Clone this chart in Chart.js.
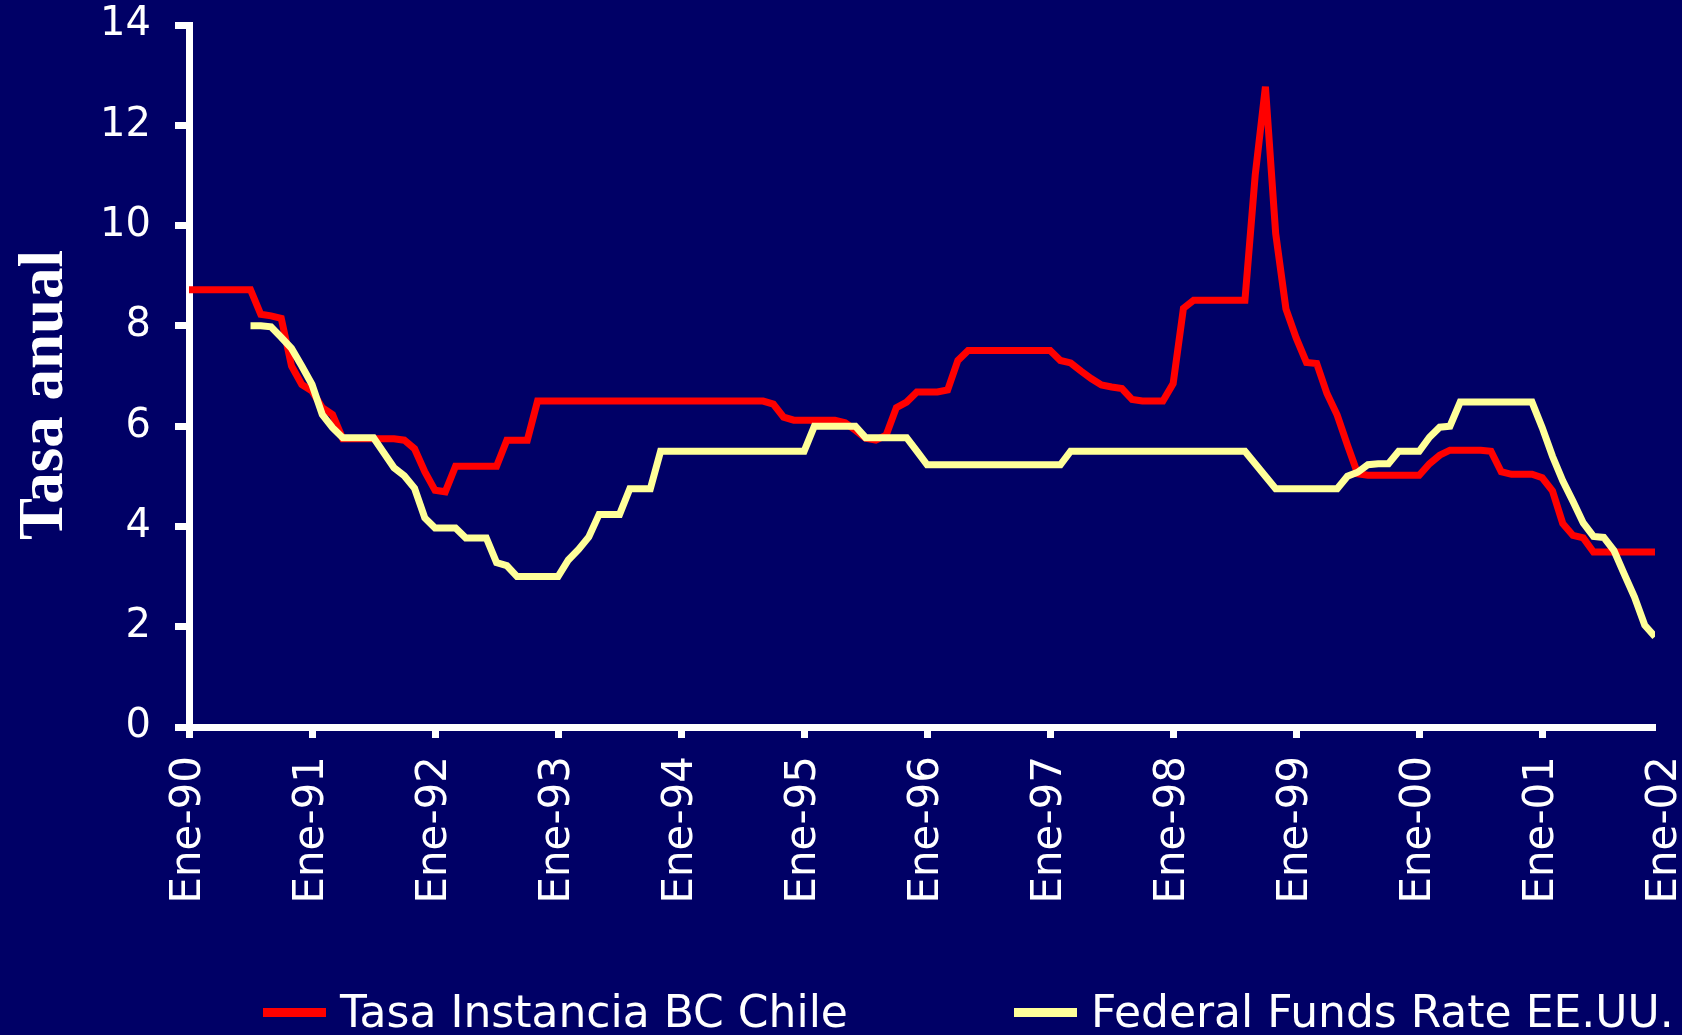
<!DOCTYPE html>
<html lang="es">
<head>
<meta charset="utf-8">
<title>Tasa Instancia BC Chile y Federal Funds Rate</title>
<script src="https://cdn.jsdelivr.net/npm/chart.js@4.4.0/dist/chart.umd.min.js"></script>
<style>
  html, body { margin: 0; padding: 0; background: #000066; }
  canvas { display: block; }
</style>
</head>
<body>
<canvas id="tasasChart" width="1682" height="1035" style="width:1682px;height:1035px"></canvas>
<script>
'use strict';

// Monthly values, index 0 = Ene-90 ... index 143 = Dic-01
const yearLabels = ['Ene-90', 'Ene-91', 'Ene-92', 'Ene-93', 'Ene-94', 'Ene-95', 'Ene-96',
  'Ene-97', 'Ene-98', 'Ene-99', 'Ene-00', 'Ene-01', 'Ene-02'];

const tasaChile = [
  8.72, 8.72, 8.72, 8.72, 8.72, 8.72, 8.72, 8.23, 8.2, 8.15, 7.2, 6.83,      // 1990
  6.7, 6.37, 6.23, 5.75, 5.75, 5.75, 5.75, 5.75, 5.75, 5.72, 5.55, 5.09,     // 1991
  4.72, 4.69, 5.2, 5.2, 5.2, 5.2, 5.2, 5.72, 5.72, 5.72, 6.5, 6.5,           // 1992
  6.5, 6.5, 6.5, 6.5, 6.5, 6.5, 6.5, 6.5, 6.5, 6.5, 6.5, 6.5,                // 1993
  6.5, 6.5, 6.5, 6.5, 6.5, 6.5, 6.5, 6.5, 6.5, 6.44, 6.18, 6.12,             // 1994
  6.12, 6.12, 6.12, 6.12, 6.07, 5.92, 5.76, 5.72, 5.82, 6.37, 6.48, 6.68,    // 1995
  6.68, 6.68, 6.72, 7.31, 7.51, 7.51, 7.51, 7.51, 7.51, 7.51, 7.51, 7.51,    // 1996
  7.51, 7.31, 7.26, 7.1, 6.95, 6.82, 6.78, 6.75, 6.53, 6.5, 6.5, 6.5,        // 1997
  6.85, 8.35, 8.51, 8.51, 8.51, 8.51, 8.51, 8.51, 11.0, 12.77, 9.84, 8.34,   // 1998
  7.76, 7.27, 7.25, 6.65, 6.22, 5.62, 5.05, 5.02, 5.02, 5.02, 5.02, 5.02,    // 1999
  5.02, 5.25, 5.42, 5.52, 5.52, 5.52, 5.52, 5.5, 5.09, 5.04, 5.04, 5.04,     // 2000
  4.97, 4.71, 4.06, 3.82, 3.77, 3.49, 3.49, 3.49, 3.49, 3.49, 3.49, 3.49     // 2001
];

const fedFunds = [
  null, null, null, null, null, null, 8.0, 8.0, 7.98, 7.77, 7.55, 7.2,       // 1990
  6.83, 6.23, 5.97, 5.77, 5.77, 5.77, 5.77, 5.47, 5.17, 5.01, 4.76, 4.17,    // 1991
  3.97, 3.97, 3.97, 3.77, 3.77, 3.77, 3.28, 3.22, 3.0, 3.0, 3.0, 3.0,        // 1992
  3.0, 3.33, 3.54, 3.79, 4.24, 4.24, 4.24, 4.75, 4.75, 4.75, 5.5, 5.5,       // 1993
  5.5, 5.5, 5.5, 5.5, 5.5, 5.5, 5.5, 5.5, 5.5, 5.5, 5.5, 5.5,                // 1994
  5.5, 6.0, 6.0, 6.0, 6.0, 6.0, 5.77, 5.77, 5.77, 5.77, 5.77, 5.5,           // 1995
  5.23, 5.23, 5.23, 5.23, 5.23, 5.23, 5.23, 5.23, 5.23, 5.23, 5.23, 5.23,    // 1996
  5.23, 5.23, 5.5, 5.5, 5.5, 5.5, 5.5, 5.5, 5.5, 5.5, 5.5, 5.5,              // 1997
  5.5, 5.5, 5.5, 5.5, 5.5, 5.5, 5.5, 5.5, 5.25, 5.0, 4.75, 4.75,             // 1998
  4.75, 4.75, 4.75, 4.75, 4.75, 5.0, 5.08, 5.23, 5.25, 5.25, 5.5, 5.5,       // 1999
  5.5, 5.78, 5.98, 6.0, 6.48, 6.48, 6.48, 6.48, 6.48, 6.48, 6.48, 6.48,      // 2000
  5.97, 5.4, 4.91, 4.5, 4.07, 3.8, 3.78, 3.52, 3.05, 2.59, 2.03, 1.8         // 2001
];

const WHITE = '#ffffff';
const RED = '#ff0000';
const YELLOW = '#ffff99';
const LAST_MONTH = tasaChile.length - 1;

function toPoints(values) {
  return values.map((v, i) => ({ x: i, y: v }));
}

// Slide-style legend at the bottom and the serif axis title on the left
const slideDecor = {
  id: 'slideDecor',
  afterDraw(chart) {
    const ctx = chart.ctx;
    const legendX = [263, 1014];
    ctx.save();
    ctx.font = '44px "DejaVu Sans"';
    ctx.textBaseline = 'alphabetic';
    ctx.textAlign = 'left';
    chart.data.datasets.forEach((ds, i) => {
      const x = legendX[i];
      ctx.fillStyle = ds.borderColor;
      ctx.fillRect(x, 1008, 63, 9);
      ctx.fillStyle = WHITE;
      ctx.fillText(ds.label, x + 77, 1027);
    });

    ctx.translate(62, 395);
    ctx.rotate(-Math.PI / 2);
    ctx.font = 'bold 63px "Liberation Serif"';
    ctx.textAlign = 'center';
    ctx.fillStyle = WHITE;
    ctx.fillText('Tasa anual', 0, 0);
    ctx.restore();
  }
};

const ctx = document.getElementById('tasasChart').getContext('2d');
new Chart(ctx, {
  type: 'line',
  data: {
    datasets: [
      {
        label: 'Tasa Instancia BC Chile',
        data: toPoints(tasaChile),
        borderColor: RED,
        borderWidth: 7,
        order: 1,
      },
      {
        label: 'Federal Funds Rate EE.UU.',
        data: toPoints(fedFunds),
        borderColor: YELLOW,
        borderWidth: 7,
        order: 0,
      },
    ],
  },
  options: {
    responsive: false,
    animation: false,
    devicePixelRatio: 1,
    layout: { padding: { top: 25, right: 27, bottom: 0, left: 0 } },
    elements: {
      point: { radius: 0 },
      line: { tension: 0, borderCapStyle: 'butt', borderJoinStyle: 'miter' },
    },
    plugins: {
      legend: { display: false },
      tooltip: { enabled: false },
    },
    scales: {
      x: {
        type: 'linear',
        min: 0,
        max: LAST_MONTH,
        afterBuildTicks: scale => {
          scale.ticks = yearLabels.map((_, i) => ({ value: i * 12 }));
        },
        ticks: {
          autoSkip: false,
          minRotation: 90,
          maxRotation: 90,
          padding: 18,
          color: WHITE,
          font: { family: 'DejaVu Sans', size: 42 },
          callback: value => yearLabels[value / 12],
        },
        grid: {
          drawOnChartArea: false,
          tickLength: 11,
          tickWidth: 7,
          // the Ene-02 label sits past the end of the axis, without a tick mark
          tickColor: c => (c.tick && c.tick.value > LAST_MONTH ? 'rgba(0,0,0,0)' : WHITE),
        },
        border: { color: WHITE, width: 7 },
        afterFit: scale => {
          scale.height = 308;
          scale.paddingLeft = 0;
          scale.paddingRight = 0;
        },
      },
      y: {
        min: 0,
        max: 14,
        ticks: {
          stepSize: 2,
          padding: 24,
          color: WHITE,
          font: { family: 'DejaVu Sans', size: 40 },
        },
        grid: { drawOnChartArea: false, tickLength: 14, tickWidth: 7, tickColor: WHITE },
        border: { color: WHITE, width: 7 },
        afterFit: scale => {
          scale.width = 189;
          scale.paddingTop = 0;
          scale.paddingBottom = 0;
        },
      },
    },
  },
  plugins: [slideDecor],
});
</script>
</body>
</html>
